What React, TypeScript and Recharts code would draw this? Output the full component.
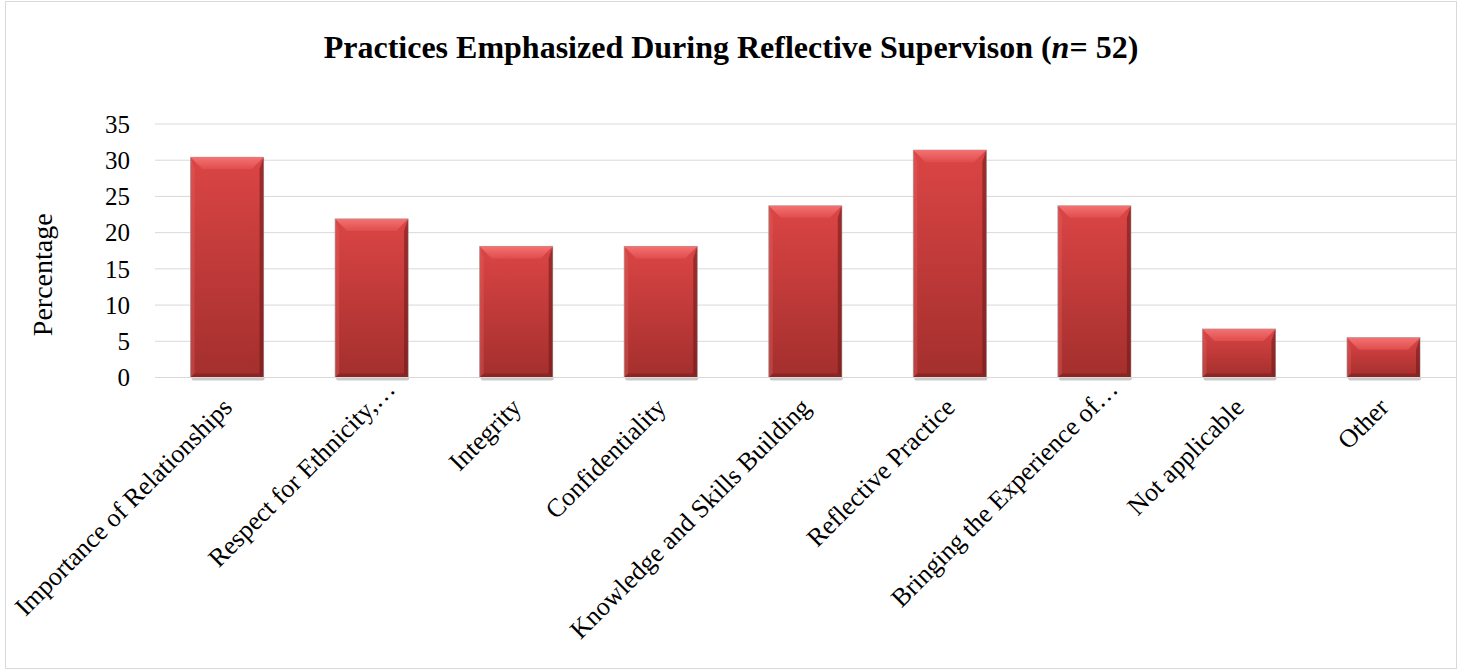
import { BarChart, Bar, XAxis, YAxis, CartesianGrid, Label } from 'recharts';

const categories = [
  'Importance of Relationships',
  'Respect for Ethnicity,…',
  'Integrity',
  'Confidentiality',
  'Knowledge and Skills Building',
  'Reflective Practice',
  'Bringing the Experience of…',
  'Not applicable',
  'Other',
];

const percentages = [30.4, 21.9, 18.1, 18.1, 23.7, 31.4, 23.7, 6.7, 5.5];

const yTicks = [0, 5, 10, 15, 20, 25, 30, 35];

const data = categories.map((name, i) => ({ name, value: percentages[i] }));

const SERIF = '"Liberation Serif", "Times New Roman", serif';

// red column with an Excel-style bevel: light top facet, darker right/bottom edges
function BevelBar(props: any) {
  const { x, y, width, height } = props;
  if (!height || height <= 0) return null;
  const b = Math.min(12, height / 2, width / 2);
  const s = 4;
  const r = x + width;
  const bot = y + height;
  return (
    <g>
      <rect x={x + 1} y={bot - 1} width={width} height={4} rx={2} fill="#8a8a8a" opacity={0.45} />
      <rect x={x} y={y} width={width} height={height} fill="url(#barBody)" stroke="#9a9a9a" strokeOpacity={0.7} strokeWidth={1} />
      <polygon points={`${x},${y} ${x + s},${y + b} ${x + s},${bot - s} ${x},${bot}`} fill="#e86060" opacity={0.35} />
      <polygon points={`${r},${y} ${r},${bot} ${r - s},${bot - s} ${r - s},${y + b}`} fill="#6e1818" opacity={0.55} />
      <polygon points={`${x},${bot} ${r},${bot} ${r - s},${bot - s} ${x + s},${bot - s}`} fill="#6e1818" opacity={0.45} />
      <polygon points={`${x},${y} ${r},${y} ${r - b},${y + b} ${x + b},${y + b}`} fill="url(#barTop)" />
    </g>
  );
}

function CategoryTick(props: any) {
  const { x, y, payload } = props;
  const label: string = payload.value;
  const ax = x;
  const ay = y + 25;
  // truncated labels hang their ellipsis past the tick
  const shift = label.endsWith('…') ? '1em' : '0';
  return (
    <text
      x={ax}
      y={ay}
      transform={`rotate(-45, ${ax}, ${ay})`}
      textAnchor="end"
      fontFamily={SERIF}
      fontSize={26}
      fill="#000"
    >
      <tspan x={ax} dx={shift} dy="0.35em">{label}</tspan>
    </text>
  );
}

function ValueTick(props: any) {
  const { x, y, payload } = props;
  return (
    <text x={x - 25} y={y} dy="0.35em" textAnchor="end" fontFamily={SERIF} fontSize={25} fill="#000">
      {payload.value}
    </text>
  );
}

function PercentageTitle(props: any) {
  const vb = props.viewBox || { x: 0, y: 124, width: 155, height: 253.5 };
  const cx = vb.x + 42;
  const cy = vb.y + vb.height / 2 + 24;
  return (
    <text
      x={cx}
      y={cy}
      transform={`rotate(-90, ${cx}, ${cy})`}
      textAnchor="middle"
      dy="0.35em"
      fontFamily={SERIF}
      fontSize={28}
      fill="#000"
    >
      Percentage
    </text>
  );
}

export default function App() {
  return (
    <div style={{ position: 'absolute', left: 0, top: 0, width: 1467, height: 671, background: '#fff', fontFamily: SERIF }}>
      <div
        style={{
          position: 'absolute',
          left: 5,
          top: 1,
          width: 1452,
          height: 668,
          border: '1px solid #d9d9d9',
          boxSizing: 'border-box',
        }}
      />
      <div
        style={{
          position: 'absolute',
          left: 5,
          top: 29,
          width: 1452,
          textAlign: 'center',
          fontSize: 32,
          fontWeight: 'bold',
          color: '#000',
          whiteSpace: 'nowrap',
        }}
      >
        Practices Emphasized During Reflective Supervison (<i>n</i>= 52)
      </div>
      <div style={{ position: 'absolute', left: 0, top: 0 }}>
        <BarChart
          width={1467}
          height={671}
          data={data}
          margin={{ top: 124, right: 11, left: 0, bottom: 0 }}
          barCategoryGap="24.6%"
        >
          <defs>
            <linearGradient id="barBody" x1="0" y1="0" x2="0" y2="1">
              <stop offset="0%" stopColor="#db4545" />
              <stop offset="100%" stopColor="#a32f2d" />
            </linearGradient>
            <linearGradient id="barTop" x1="0" y1="0" x2="0" y2="1">
              <stop offset="0%" stopColor="#f47272" />
              <stop offset="100%" stopColor="#e04d4d" />
            </linearGradient>
          </defs>
          <CartesianGrid vertical={false} stroke="#d9d9d9" strokeWidth={1} />
          <XAxis
            dataKey="name"
            height={293.5}
            interval={0}
            tickLine={false}
            tickSize={0}
            tickMargin={0}
            axisLine={{ stroke: '#d9d9d9', strokeWidth: 1 }}
            tick={<CategoryTick />}
          />
          <YAxis
            width={155}
            domain={[0, 35]}
            ticks={yTicks}
            axisLine={false}
            tickLine={false}
            tickSize={0}
            tickMargin={0}
            tick={<ValueTick />}
          >
            <Label content={(p: any) => <PercentageTitle {...p} />} />
          </YAxis>
          <Bar dataKey="value" shape={<BevelBar />} isAnimationActive={false} />
        </BarChart>
      </div>
    </div>
  );
}
